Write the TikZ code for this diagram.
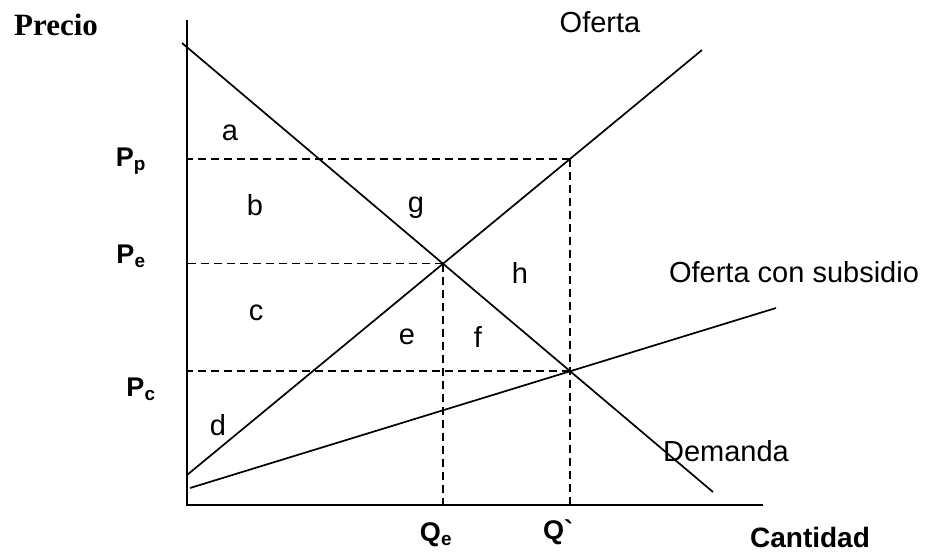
\documentclass[tikz,border=0pt]{standalone}
\usepackage{fontspec}
\setmainfont{Liberation Serif}
\setsansfont{Liberation Sans}
\newfontfamily\plainsans{Liberation Sans}
\usetikzlibrary{intersections}
\tikzset{
  curve/.style={line width=1.7pt},
  guide/.style={line width=1.5pt, dash pattern=on 8pt off 5pt},
  area/.style={font=\sffamily\fontsize{29}{33}\selectfont, inner sep=0pt},
  curvelabel/.style={font=\sffamily\fontsize{29}{33}\selectfont, inner sep=0pt},
  axislabel/.style={font=\sffamily\bfseries\fontsize{27}{32}\selectfont, inner sep=0pt},
}
\begin{document}
\begin{tikzpicture}[x=1pt,y=1pt]
\useasboundingbox (0,0) rectangle (926,-552);
% axes
\coordinate (O) at (187,-505);
\coordinate (Ytop) at (187,-20);
\coordinate (Xend) at (763,-505);
\draw[curve] (Ytop) -- (O) -- (Xend);
% curves
\coordinate (D1) at (182,-43);
\coordinate (D2) at (713,-492);
\coordinate (S1) at (187,-475);
\coordinate (S2) at (702,-50);
\coordinate (T1) at (190,-488);
\coordinate (T2) at (776,-308);
\draw[curve, name path=dem] (D1) -- (D2);
\draw[curve, name path=sup] (S1) -- (S2);
\draw[curve, name path=sub] (T1) -- (T2);
\path[name intersections={of=dem and sup, by=E}];
\path[name intersections={of=dem and sub, by=F}];
\path[name path=vert] (F |- 0,0) -- (F |- O);
\path[name intersections={of=vert and sup, by=G}];
% dashed guides
\draw[guide] (E) -- (E -| O);
\draw[guide] (E) -- (E |- O);
\draw[guide] (G) -- (G -| O);
\draw[guide] (G) -- (G |- O);
\draw[guide] (F) -- (F -| O);
% area labels
\node[area] (la) at (230,-133) {a};
\node[area] (lb) at (255,-205) {b};
\node[area] (lc) at (256,-313) {c};
\node[area] (ld) at (218,-425) {d};
\node[area] (le) at (407,-337) {e};
\node[area] (lf) at (478,-337) {f};
\node[area] (lg) at (416,-208) {g};
\node[area] (lh) at (520,-273) {h};
% curve labels
\node[curvelabel] (lofer) at (600,-22) {Oferta};
\node[curvelabel] (lsub) at (794,-272) {Oferta con subsidio};
\node[curvelabel] (ldem) at (726,-451) {Demanda};
% axis labels
\node[font=\rmfamily\bfseries\fontsize{31}{35}\selectfont, inner sep=0pt] (lprecio) at (56,-25) {Precio};
\node[font=\sffamily\bfseries\fontsize{28}{32}\selectfont, inner sep=0pt] (lcant) at (810,-537) {Cantidad};
\node[axislabel] (lpp) at (131,-161) {P\textsubscript{p}};
\node[axislabel] (lpe) at (131,-256) {P\textsubscript{e}};
\node[axislabel] (lpc) at (141,-389) {P\textsubscript{c}};
\node[axislabel] (lqe) at (436,-535) {Q\textsubscript{e}};
\node[axislabel, font=\plainsans\bfseries\fontsize{27}{32}\selectfont] (lqp) at (558,-532) {Q`};
\end{tikzpicture}
\end{document}
